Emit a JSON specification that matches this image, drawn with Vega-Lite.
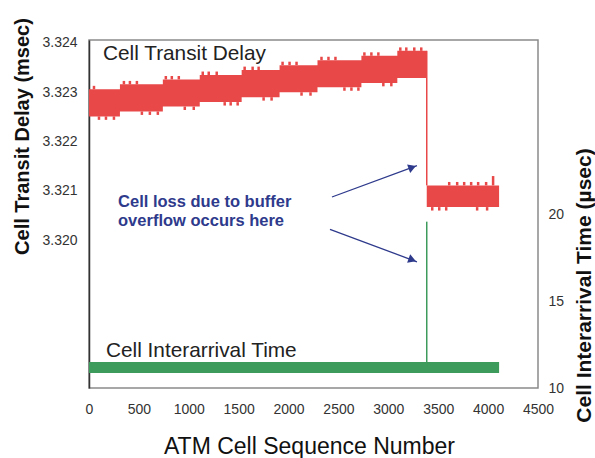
{
  "$schema": "https://vega.github.io/schema/vega-lite/v6.json",
  "width": 449,
  "height": 348,
  "autosize": "none",
  "padding": {"left": 89, "top": 40, "right": 58, "bottom": 70},
  "background": "white",
  "config": {
    "view": {"stroke": "#8a8a8a", "strokeWidth": 1.5},
    "font": "Liberation Sans",
    "axis": {"labelFont": "Liberation Sans", "titleFont": "Liberation Sans", "grid": false, "ticks": false, "labelColor": "#333", "titleColor": "#111", "labelFontSize": 14, "labelFlush": false}
  },
  "datasets": {
    "band1": [
      {"x": 0, "lo": 3.32251, "hi": 3.32306},
      {"x": 310, "lo": 3.32261, "hi": 3.32316},
      {"x": 740, "lo": 3.32271, "hi": 3.32326},
      {"x": 1110, "lo": 3.3228, "hi": 3.32335},
      {"x": 1530, "lo": 3.3229, "hi": 3.32345},
      {"x": 1910, "lo": 3.323, "hi": 3.32355},
      {"x": 2290, "lo": 3.3231, "hi": 3.32365},
      {"x": 2730, "lo": 3.32319, "hi": 3.32374},
      {"x": 3090, "lo": 3.32329, "hi": 3.32384},
      {"x": 3385, "lo": 3.32329, "hi": 3.32384}
    ],
    "band2": [
      {"x": 3385, "lo": 3.32067, "hi": 3.32111},
      {"x": 4110, "lo": 3.32067, "hi": 3.32111}
    ],
    "notches": [
      {"x": 50, "y1": 3.32306, "y2": 3.32313},
      {"x": 100, "y1": 3.32244, "y2": 3.32251},
      {"x": 170, "y1": 3.32244, "y2": 3.32251},
      {"x": 250, "y1": 3.32244, "y2": 3.32251},
      {"x": 350, "y1": 3.32316, "y2": 3.32323},
      {"x": 410, "y1": 3.32316, "y2": 3.32323},
      {"x": 480, "y1": 3.32316, "y2": 3.32323},
      {"x": 530, "y1": 3.32254, "y2": 3.32261},
      {"x": 610, "y1": 3.32254, "y2": 3.32261},
      {"x": 690, "y1": 3.32254, "y2": 3.32261},
      {"x": 770, "y1": 3.32326, "y2": 3.32333},
      {"x": 830, "y1": 3.32326, "y2": 3.32333},
      {"x": 900, "y1": 3.32326, "y2": 3.32333},
      {"x": 960, "y1": 3.32264, "y2": 3.32271},
      {"x": 1050, "y1": 3.32264, "y2": 3.32271},
      {"x": 1140, "y1": 3.32335, "y2": 3.32342},
      {"x": 1200, "y1": 3.32335, "y2": 3.32342},
      {"x": 1280, "y1": 3.32335, "y2": 3.32342},
      {"x": 1360, "y1": 3.32273, "y2": 3.3228},
      {"x": 1420, "y1": 3.32273, "y2": 3.3228},
      {"x": 1490, "y1": 3.32273, "y2": 3.3228},
      {"x": 1560, "y1": 3.32345, "y2": 3.32352},
      {"x": 1640, "y1": 3.32345, "y2": 3.32352},
      {"x": 1700, "y1": 3.32345, "y2": 3.32352},
      {"x": 1750, "y1": 3.32283, "y2": 3.3229},
      {"x": 1830, "y1": 3.32283, "y2": 3.3229},
      {"x": 1940, "y1": 3.32355, "y2": 3.32362},
      {"x": 2010, "y1": 3.32355, "y2": 3.32362},
      {"x": 2080, "y1": 3.32355, "y2": 3.32362},
      {"x": 2130, "y1": 3.32293, "y2": 3.323},
      {"x": 2220, "y1": 3.32293, "y2": 3.323},
      {"x": 2330, "y1": 3.32365, "y2": 3.32372},
      {"x": 2400, "y1": 3.32365, "y2": 3.32372},
      {"x": 2470, "y1": 3.32365, "y2": 3.32372},
      {"x": 2560, "y1": 3.32303, "y2": 3.3231},
      {"x": 2630, "y1": 3.32303, "y2": 3.3231},
      {"x": 2700, "y1": 3.32303, "y2": 3.3231},
      {"x": 2760, "y1": 3.32374, "y2": 3.32381},
      {"x": 2830, "y1": 3.32374, "y2": 3.32381},
      {"x": 2900, "y1": 3.32374, "y2": 3.32381},
      {"x": 2950, "y1": 3.32312, "y2": 3.32319},
      {"x": 3030, "y1": 3.32312, "y2": 3.32319},
      {"x": 3120, "y1": 3.32384, "y2": 3.32391},
      {"x": 3180, "y1": 3.32384, "y2": 3.32391},
      {"x": 3260, "y1": 3.32384, "y2": 3.32391},
      {"x": 3330, "y1": 3.32384, "y2": 3.32391},
      {"x": 3440, "y1": 3.3206, "y2": 3.32067},
      {"x": 3510, "y1": 3.3206, "y2": 3.32067},
      {"x": 3580, "y1": 3.3206, "y2": 3.32067},
      {"x": 3890, "y1": 3.3206, "y2": 3.32067},
      {"x": 3990, "y1": 3.3206, "y2": 3.32067},
      {"x": 3610, "y1": 3.32111, "y2": 3.32118},
      {"x": 3690, "y1": 3.32111, "y2": 3.32118},
      {"x": 3760, "y1": 3.32111, "y2": 3.32118},
      {"x": 3830, "y1": 3.32111, "y2": 3.32118},
      {"x": 3900, "y1": 3.32111, "y2": 3.32118},
      {"x": 3980, "y1": 3.32111, "y2": 3.32118},
      {"x": 4050, "y1": 3.32111, "y2": 3.3213}
    ],
    "drop": [{"x": 3385, "y1": 3.32384, "y2": 3.32111}],
    "arrows": [
      {"x": 2435, "y": 3.320875, "x2": 3287, "y2": 3.32151},
      {"x": 2415, "y": 3.32022, "x2": 3287, "y2": 3.31956}
    ],
    "head1": [{"x": 3240, "y": 3.321475}],
    "head2": [{"x": 3240, "y": 3.3196}],
    "note": [
      {"t": "Cell loss due to buffer", "x": 291, "y": 3.320672},
      {"t": "overflow occurs here", "x": 291, "y": 3.320287}
    ],
    "labels": [
      {"t": "Cell Transit Delay", "x": 140, "y": 3.32365},
      {"t": "Cell Interarrival Time", "x": 170, "y": 3.31763}
    ],
    "green": [{"x": 0, "x2": 4110, "lo": 10.86, "hi": 11.5}],
    "spike": [{"x": 3385, "lo": 11.3, "hi": 19.56}]
  },
  "layer": [
    {
      "layer": [
        {
          "data": {"name": "band1"},
          "mark": {"type": "area", "interpolate": "step-after", "color": "#e84848"},
          "encoding": {
            "x": {"field": "x", "type": "quantitative", "scale": {"domain": [0, 4500], "nice": false},
              "axis": {"values": [0, 500, 1000, 1500, 2000, 2500, 3000, 3500, 4000, 4500], "format": "d", "labelPadding": 14, "domain": false, "labelOverlap": false,
                "title": "ATM Cell Sequence Number", "titleFontSize": 23, "titleFontWeight": "normal", "titleX": 220, "titleY": 65, "titleBaseline": "alphabetic", "titleAnchor": "middle", "titleAlign": "center"}},
            "y": {"field": "lo", "type": "quantitative", "scale": {"domain": [3.317, 3.32406], "nice": false, "zero": false},
              "axis": {"values": [3.32, 3.321, 3.322, 3.323, 3.324], "format": ".3f", "labelPadding": 12, "domain": true, "domainColor": "#333", "domainWidth": 1.5,
                "title": "Cell Transit Delay (msec)", "titleFontSize": 20, "titleFontWeight": "bold", "titleAngle": -90, "titleX": -67, "titleY": 96, "titleAlign": "center", "titleBaseline": "middle"}},
            "y2": {"field": "hi"}
          }
        },
        {
          "data": {"name": "band2"},
          "mark": {"type": "area", "color": "#e84848"},
          "encoding": {
            "x": {"field": "x", "type": "quantitative"},
            "y": {"field": "lo", "type": "quantitative"},
            "y2": {"field": "hi"}
          }
        },
        {
          "data": {"name": "notches"},
          "mark": {"type": "rule", "color": "#e84848", "strokeWidth": 2.5},
          "encoding": {
            "x": {"field": "x", "type": "quantitative"},
            "y": {"field": "y1", "type": "quantitative"},
            "y2": {"field": "y2"}
          }
        },
        {
          "data": {"name": "drop"},
          "mark": {"type": "rule", "color": "#e84848", "strokeWidth": 1.5},
          "encoding": {
            "x": {"field": "x", "type": "quantitative"},
            "y": {"field": "y1", "type": "quantitative"},
            "y2": {"field": "y2"}
          }
        },
        {
          "data": {"name": "arrows"},
          "mark": {"type": "rule", "color": "#2e3a8c", "strokeWidth": 1.3},
          "encoding": {
            "x": {"field": "x", "type": "quantitative"},
            "y": {"field": "y", "type": "quantitative"},
            "x2": {"field": "x2"},
            "y2": {"field": "y2"}
          }
        },
        {
          "data": {"name": "head1"},
          "mark": {"type": "point", "shape": "triangle-right", "filled": true, "color": "#2e3a8c", "size": 80, "angle": -20, "opacity": 1},
          "encoding": {
            "x": {"field": "x", "type": "quantitative"},
            "y": {"field": "y", "type": "quantitative"}
          }
        },
        {
          "data": {"name": "head2"},
          "mark": {"type": "point", "shape": "triangle-right", "filled": true, "color": "#2e3a8c", "size": 80, "angle": 20, "opacity": 1},
          "encoding": {
            "x": {"field": "x", "type": "quantitative"},
            "y": {"field": "y", "type": "quantitative"}
          }
        },
        {
          "data": {"name": "note"},
          "mark": {"type": "text", "align": "left", "baseline": "alphabetic", "font": "Liberation Sans", "fontSize": 16.5, "fontWeight": "bold", "color": "#2e3a8c"},
          "encoding": {
            "x": {"field": "x", "type": "quantitative"},
            "y": {"field": "y", "type": "quantitative"},
            "text": {"field": "t"}
          }
        },
        {
          "data": {"name": "labels"},
          "mark": {"type": "text", "align": "left", "baseline": "alphabetic", "font": "Liberation Sans", "fontSize": 20.8, "color": "#222"},
          "encoding": {
            "x": {"field": "x", "type": "quantitative"},
            "y": {"field": "y", "type": "quantitative"},
            "text": {"field": "t"}
          }
        }
      ]
    },
    {
      "layer": [
        {
          "data": {"name": "green"},
          "mark": {"type": "rect", "color": "#3d9b5c"},
          "encoding": {
            "x": {"field": "x", "type": "quantitative"},
            "x2": {"field": "x2"},
            "y": {"field": "lo", "type": "quantitative", "scale": {"domain": [10, 30], "nice": false, "zero": false},
              "axis": {"orient": "right", "values": [10, 15, 20], "labelPadding": 10, "domain": false,
                "title": "Cell Interarrival Time (µsec)", "titleFontSize": 21, "titleFontWeight": "bold", "titleAngle": -90, "titleX": 46, "titleY": 245, "titleAlign": "center", "titleBaseline": "middle"}},
            "y2": {"field": "hi"}
          }
        },
        {
          "data": {"name": "spike"},
          "mark": {"type": "rule", "color": "#3d9b5c", "strokeWidth": 1.5},
          "encoding": {
            "x": {"field": "x", "type": "quantitative"},
            "y": {"field": "lo", "type": "quantitative"},
            "y2": {"field": "hi"}
          }
        }
      ]
    }
  ],
  "resolve": {"scale": {"y": "independent"}}
}
